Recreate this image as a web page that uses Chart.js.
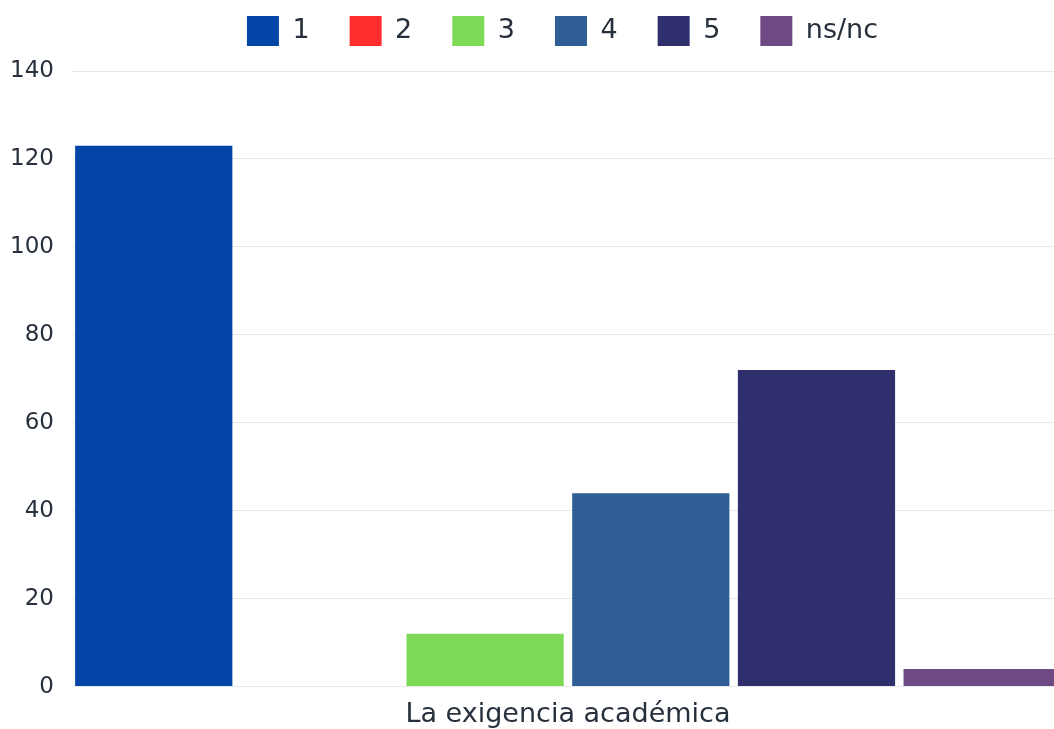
<!DOCTYPE html>
<html>
<head>
<meta charset="utf-8">
<script src="https://cdn.jsdelivr.net/npm/chart.js@4"></script>
<style>
  html, body { margin: 0; padding: 0; background: #fff; overflow: hidden; }
  #wrap { width: 1125px; height: 729px; }
</style>
</head>
<body>
<div id="wrap"><canvas id="answersChart"></canvas></div>
<script>
const categories = ['La exigencia académica'];
const seriesNames = ['1', '2', '3', '4', '5', 'ns/nc'];
const seriesValues = [[123], [0], [12], [44], [72], [4]];
const seriesColors = ['#0445a8', '#ff2d2d', '#7ed957', '#2e5e93', '#2e2f6c', '#6e4a84'];
const yTicks = [0, 20, 40, 60, 80, 100, 120, 140];

const textColor = '#27313d';
const fontFamily = '"DejaVu Sans", sans-serif';

// more room under the legend, and centre it on the full canvas
const legendPlace = {
    id: 'legendPlace',
    beforeInit(chart) {
        const fit = chart.legend.fit;
        chart.legend.fit = function () {
            fit.call(this);
            this.height += 15;
        };
    },
    afterLayout(chart) {
        chart.legend.right += 67;
    }
};

new Chart(document.getElementById('answersChart'), {
    type: 'bar',
    data: {
        labels: categories,
        datasets: seriesNames.map((name, i) => ({
            label: name,
            data: seriesValues[i],
            backgroundColor: seriesColors[i],
            barPercentage: 0.949,
            categoryPercentage: 1
        }))
    },
    plugins: [legendPlace],
    options: {
        responsive: true,
        maintainAspectRatio: false,
        animation: false,
        layout: { padding: { left: -7, right: 60, top: -24, bottom: -14 } },
        plugins: {
            legend: {
                position: 'top',
                labels: {
                    boxWidth: 32,
                    boxHeight: 30,
                    padding: 40,
                    color: textColor,
                    font: { family: fontFamily, size: 27 }
                }
            },
            tooltip: { enabled: false }
        },
        scales: {
            x: {
                grid: { display: false, drawTicks: false },
                border: { display: false },
                ticks: {
                    color: textColor,
                    padding: 12,
                    font: { family: fontFamily, size: 27 }
                }
            },
            y: {
                min: 0,
                max: 140,
                afterBuildTicks: axis => { axis.ticks = yTicks.map(v => ({ value: v })); },
                grid: { color: '#e6e8ea', drawTicks: false },
                border: { display: false },
                ticks: {
                    color: textColor,
                    padding: 17,
                    font: { family: fontFamily, size: 23 }
                }
            }
        }
    }
});
</script>
</body>
</html>
